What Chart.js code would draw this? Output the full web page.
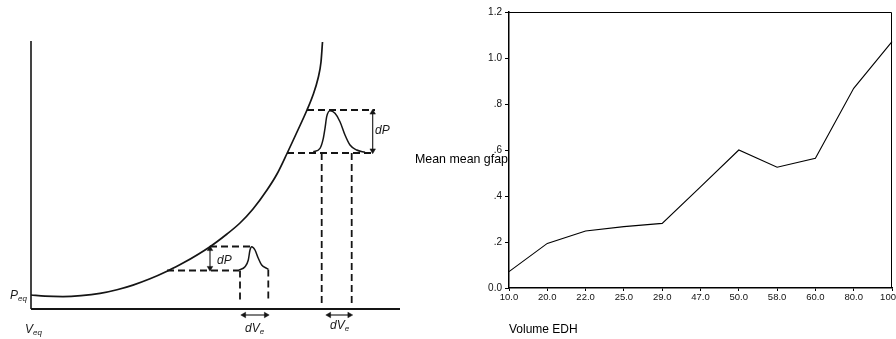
<!DOCTYPE html>
<html><head><meta charset="utf-8">
<script src="https://cdn.jsdelivr.net/npm/chart.js@4.4.0/dist/chart.umd.min.js"></script>
<style>
html,body{margin:0;padding:0;background:#fff;width:896px;height:339px;overflow:hidden;position:relative;font-family:Arial,"Liberation Sans",sans-serif;}
#leftWrap{position:absolute;left:0;top:0;width:400px;height:339px;}
#rightWrap{position:absolute;left:400px;top:0;width:510px;height:339px;}
.lbl{position:absolute;white-space:nowrap;font-size:12px;line-height:12px;color:#000;}
.dia{position:absolute;white-space:nowrap;font-style:italic;font-size:12px;line-height:12px;color:#1a1a1a;}
.dia sub{font-size:8px;vertical-align:-2px;line-height:0;}
</style></head><body>
<div id="leftWrap"><canvas id="diagram"></canvas></div>
<div id="rightWrap"><canvas id="gfapChart"></canvas></div>
<div class="lbl" style="left:415px;top:153px;font-size:12.4px;">Mean mean gfap</div>
<div class="lbl" style="left:509px;top:323px;">Volume EDH</div>
<div class="dia" style="left:10px;top:289px;">P<sub>eq</sub></div>
<div class="dia" style="left:25px;top:323px;">V<sub>eq</sub></div>
<div class="dia" style="left:217px;top:254px;">dP</div>
<div class="dia" style="left:375px;top:124px;">dP</div>
<div class="dia" style="left:245px;top:322px;">dV<sub>e</sub></div>
<div class="dia" style="left:330px;top:319px;">dV<sub>e</sub></div>
<script>
// ---------- Right chart data ----------
const volumeLabels = ['10.0','20.0','22.0','25.0','29.0','47.0','50.0','58.0','60.0','80.0','100.0'];
const meanGfap = [0.071,0.194,0.248,0.267,0.281,0.44,0.600,0.525,0.564,0.868,1.071];
const yTickText = ['0.0','.2','.4','.6','.8','1.0','1.2'];

// ---------- Left diagram data (volume / pressure, arbitrary units) ----------
const curveV = [0,14,32,50,69,86,102,119,136,152,179,196,209,222,236,246,256,266,276,282,287,290,291.5];
const curveP = [14,12.8,12.4,13.3,15.6,19.3,23.9,30.2,37.8,45.9,62.3,75,86,100,119,135,155.5,177,199,214,230.5,247,267];
const pulseLowV = [208,214,217.3,219,220.7,224,227.3,230.7,235.7,237.3];
const pulseLowP = [39,42.3,49,59,62.3,59,50.7,44,40.7,39.7];
const pulseHighV = [282.3,289,292.3,294,295.7,299,304,309,314,319,325.7,334];
const pulseHighP = [157.3,160.7,170.7,180.7,192.3,198.3,195.7,187.3,174,164,159,156.7];
// dashed guides: [v1, p1, v2, p2]
const guideLines = [
  [136,38.5,208,38.5],[179,62.5,221,62.5],[209,38.5,209,7],[237.3,39.5,237.3,7],
  [256,156,341,156],[276,199,344,199],[290.7,156,290.7,3],[320.7,156,320.7,3]
];
// double arrows: [v1, p1, v2, p2]
const arrowLines = [
  [179,41,179,60],[341.7,158.5,341.7,196.5],[213,-6,235,-6],[298,-6,318.5,-6]
];
const axisLines = [[0,0,0,268],[0,0,369,0]];

function toPts(xs, ys){ return xs.map((x,i)=>({x:x,y:ys[i]})); }
function segPts(s){ return [{x:s[0],y:s[1]},{x:s[2],y:s[3]}]; }
const ink = '#151515';

const diagramSets = [];
axisLines.forEach((s,i)=>diagramSets.push({data:segPts(s),borderColor:ink,borderWidth:i===0?1.6:2.2,pointRadius:0,clip:false}));
diagramSets.push({data:toPts(curveV,curveP),borderColor:ink,borderWidth:1.7,pointRadius:0,cubicInterpolationMode:'monotone',clip:false});
diagramSets.push({data:toPts(pulseLowV,pulseLowP),borderColor:ink,borderWidth:1.5,pointRadius:0,cubicInterpolationMode:'monotone',clip:false});
diagramSets.push({data:toPts(pulseHighV,pulseHighP),borderColor:ink,borderWidth:1.5,pointRadius:0,cubicInterpolationMode:'monotone',clip:false});
guideLines.forEach(s=>diagramSets.push({data:segPts(s),borderColor:ink,borderWidth:1.8,borderDash:[7,4],pointRadius:0,clip:false}));
arrowLines.forEach(s=>{
  const vertical = s[0]===s[2];
  diagramSets.push({data:segPts(s),borderColor:ink,borderWidth:1.1,clip:false,
    pointStyle:'triangle',pointRadius:3.2,pointBackgroundColor:ink,pointBorderColor:ink,pointBorderWidth:0.5,
    pointRotation: vertical ? [180,0] : [270,90]});
});

new Chart(document.getElementById('diagram'), {
  type:'line',
  data:{datasets:diagramSets},
  options:{
    responsive:true, maintainAspectRatio:false, animation:false,
    layout:{autoPadding:false,padding:{left:31,right:0,top:41,bottom:0}},
    plugins:{legend:{display:false},tooltip:{enabled:false}},
    scales:{
      x:{type:'linear',min:0,max:369,display:false},
      y:{type:'linear',min:-30,max:268,display:false}
    }
  }
});

// ---------- Right chart ----------
const frame = {
  id:'frame',
  afterDatasetsDraw(chart){
    const a = chart.chartArea, c = chart.ctx;
    c.save(); c.strokeStyle='#000'; c.lineWidth=1;
    c.beginPath(); c.moveTo(a.left, a.top+0.5); c.lineTo(a.right-0.5, a.top+0.5); c.lineTo(a.right-0.5, a.bottom); c.stroke();
    c.restore();
  }
};
const tickFont = {family:'Arial, "Liberation Sans", sans-serif'};
new Chart(document.getElementById('gfapChart'), {
  type:'line',
  data:{labels:volumeLabels, datasets:[{data:meanGfap,borderColor:'#000',borderWidth:1.1,pointRadius:0,tension:0,clip:false}]},
  options:{
    responsive:true, maintainAspectRatio:false, animation:false,
    layout:{autoPadding:false,padding:{left:0,right:18,top:12,bottom:0}},
    plugins:{legend:{display:false},tooltip:{enabled:false}},
    scales:{
      x:{type:'category',offset:false,
        grid:{display:true,drawOnChartArea:false,drawTicks:true,tickLength:3,color:'#000',offset:false},
        border:{display:true,color:'#000',width:1.5},
        ticks:{autoSkip:false,maxRotation:0,minRotation:0,padding:1,color:'#111',font:Object.assign({size:9.5},tickFont)},
        afterFit(s){ s.height=51; s.paddingLeft=0; s.paddingRight=0; }
      },
      y:{min:0,max:1.2,
        grid:{display:true,drawOnChartArea:false,drawTicks:true,tickLength:4,color:'#000'},
        border:{display:true,color:'#000',width:1.5},
        ticks:{stepSize:0.2,padding:3,color:'#111',font:Object.assign({size:10},tickFont),
          callback:(v,i)=>yTickText[i]},
        afterFit(s){ s.width=109; s.paddingTop=0; s.paddingBottom=0; }
      }
    }
  },
  plugins:[frame]
});
</script>
</body></html>
